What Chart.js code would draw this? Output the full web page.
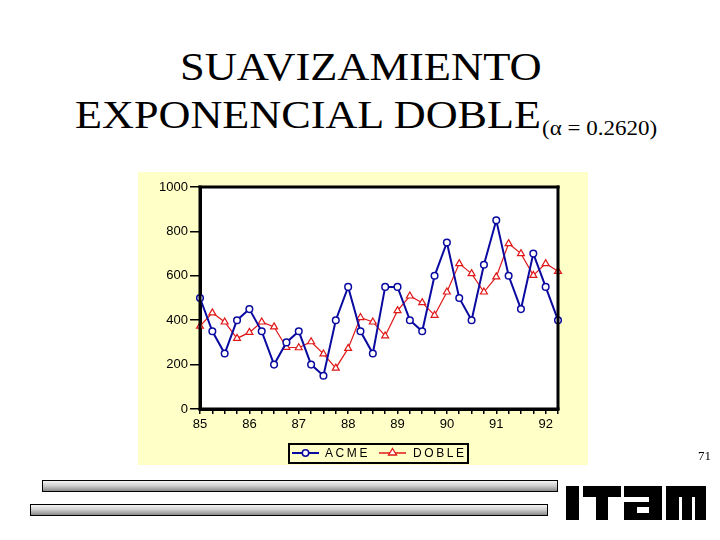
<!DOCTYPE html>
<html>
<head>
<meta charset="utf-8">
<script src="https://cdn.jsdelivr.net/npm/chart.js@4.4.1/dist/chart.umd.min.js"></script>
<style>
  html, body { margin:0; padding:0; background:#fff; }
  body { width:720px; height:540px; position:relative; overflow:hidden; font-family:"Liberation Serif", "Times New Roman", serif; }
  .t1 { position:absolute; left:180px; top:41.5px; font-size:41px; line-height:48px; color:#000; white-space:nowrap; transform:scaleX(1.085); transform-origin:0 0; }
  .t2 { position:absolute; left:75px; top:89.5px; font-size:41px; line-height:48px; color:#000; white-space:nowrap; transform:scaleX(1.078); transform-origin:0 0; }
  .t3 { position:absolute; left:542px; top:116.5px; font-size:20px; line-height:22px; color:#000; white-space:nowrap; transform:scaleX(1.15); transform-origin:0 0; }
  #wrap { position:absolute; left:138px; top:172px; width:450px; height:293px; background:#FFFFC8; }
  #legend { position:absolute; left:288px; top:443px; width:177px; height:17px; border:2px solid #000; }
  .lg { position:absolute; font-family:"Liberation Sans", Arial, sans-serif; font-size:12px; line-height:14px; letter-spacing:2.6px; color:#000; white-space:nowrap; }
  .pg { position:absolute; left:698px; top:448px; font-size:13px; }
  .bar { position:absolute; height:10px; border:1px solid #000; background:linear-gradient(to bottom, #f4f4f4 0%, #d0d0d0 45%, #8a8a8a 100%); }
  .blk { position:absolute; background:#000; }
  .wht { position:absolute; background:#fff; }
</style>
</head>
<body>
<div class="t1">SUAVIZAMIENTO</div>
<div class="t2">EXPONENCIAL DOBLE</div>
<div class="t3">(α = 0.2620)</div>
<div id="wrap"><canvas id="c" width="450" height="293"></canvas></div>
<div id="legend"></div>
<svg style="position:absolute; left:292px; top:448px;" width="28" height="10"><line x1="0" y1="5" x2="27" y2="5" stroke="#0a0aa0" stroke-width="2"/><circle cx="13.5" cy="5" r="3.2" fill="#fff" stroke="#0a0aa0" stroke-width="1.5"/></svg>
<div class="lg" style="left:325px; top:446px;">ACME</div>
<svg style="position:absolute; left:379px; top:447px;" width="28" height="10"><line x1="0" y1="6" x2="27" y2="6" stroke="#e01818" stroke-width="1.5"/><polygon points="13.5,1.5 17.5,8 9.5,8" fill="#fff" stroke="#e01818" stroke-width="1.3"/></svg>
<div class="lg" style="left:413px; top:446px;">DOBLE</div>
<div class="pg">71</div>
<div class="bar" style="left:42px; top:480px; width:514px;"></div>
<div class="bar" style="left:30px; top:504px; width:516px;"></div>
<!-- logo blocks -->
<div class="blk" style="left:566px; top:486px; width:13px; height:34px;"></div>
<div class="blk" style="left:583px; top:486px; width:38px; height:11px;"></div>
<div class="blk" style="left:596px; top:486px; width:12px; height:34px;"></div>
<div class="blk" style="left:624px; top:486px; width:38px; height:34px;"></div>
<div class="wht" style="left:624px; top:497px; width:25px; height:5px;"></div>
<div class="wht" style="left:637px; top:507px; width:12px; height:6px;"></div>
<div class="blk" style="left:666px; top:486px; width:40px; height:34px;"></div>
<div class="wht" style="left:679px; top:497px; width:3px; height:23px;"></div>
<div class="wht" style="left:692px; top:497px; width:3px; height:23px;"></div>
<script>
const quarters = ["85Q1","85Q2","85Q3","85Q4","86Q1","86Q2","86Q3","86Q4","87Q1","87Q2","87Q3","87Q4","88Q1","88Q2","88Q3","88Q4","89Q1","89Q2","89Q3","89Q4","90Q1","90Q2","90Q3","90Q4","91Q1","91Q2","91Q3","91Q4","92Q1","92Q2"];
const acme = [500,350,250,400,450,350,200,300,350,200,150,400,550,350,250,550,550,400,350,600,750,500,400,650,850,600,450,700,550,400];
const doble = [373,433,392,318,345,392,370,278,276,303,248,184,273,412,392,329,443,509,479,422,527,655,610,527,595,745,700,602,655,620];
const yTicks = [0,200,400,600,800,1000];

const frame = {
  id:'frame',
  afterDatasetsDraw(chart){
    const a = chart.chartArea, ctx = chart.ctx;
    ctx.save();
    ctx.fillStyle = '#000';
    ctx.fillRect(a.left-1.5, a.top-1.5, a.right-a.left+3, 3);
    ctx.fillRect(a.left-1.5, a.bottom-1.5, a.right-a.left+3, 3);
    ctx.fillRect(a.left-1.5, a.top-1.5, 3, a.bottom-a.top+3);
    ctx.fillRect(a.right-1.5, a.top-1.5, 3, a.bottom-a.top+3);
    ctx.restore();
  },
  beforeDraw(chart){
    const a = chart.chartArea, ctx = chart.ctx;
    ctx.save(); ctx.fillStyle='#fff'; ctx.fillRect(a.left,a.top,a.right-a.left,a.bottom-a.top); ctx.restore();
  }
};

new Chart(document.getElementById('c'), {
  type:'line',
  data:{
    labels: quarters,
    datasets:[
      { label:'ACME', data:acme, borderColor:'#0a0aa0', borderWidth:2, pointStyle:'circle', pointRadius:3.3, pointBorderWidth:1.5, pointBackgroundColor:'#fff', pointBorderColor:'#0a0aa0', tension:0 },
      { label:'DOBLE', data:doble, borderColor:'#e01818', borderWidth:1.2, pointStyle:'triangle', pointRadius:4, pointBorderWidth:1.2, pointBackgroundColor:'#fff', pointBorderColor:'#e01818', tension:0 }
    ]
  },
  options:{
    responsive:false, animation:false,
    layout:{ padding:{ left:0, right:30, top:15, bottom:30 } },
    plugins:{ legend:{display:false}, tooltip:{enabled:false} },
    scales:{
      x:{
        type:'category', offset:false,
        afterFit(s){ s.height = 26; },
        grid:{ drawOnChartArea:false, drawTicks:true, tickLength:5, color:'#000', lineWidth:1.5 },
        border:{ display:true, color:'#000', width:3 },
        ticks:{ autoSkip:false, maxRotation:0, padding:3, color:'#000', font:{ family:'"Liberation Sans", Arial, sans-serif', size:13 },
          callback(v, i){ const q = quarters[i]; return q.endsWith('Q1') ? q.slice(0,2) : ''; } }
      },
      y:{
        min:0, max:1000,
        afterFit(s){ s.width = 62; },
        afterBuildTicks(s){ s.ticks = yTicks.map(v => ({value:v})); },
        grid:{ drawOnChartArea:false, drawTicks:true, tickLength:10, color:'#000', lineWidth:1.5 },
        border:{ display:true, color:'#000', width:3 },
        ticks:{ padding:2, color:'#000', font:{ family:'"Liberation Sans", Arial, sans-serif', size:13 },
          callback(v){ return String(v); } }
      }
    }
  },
  plugins:[frame]
});
</script>
</body>
</html>
